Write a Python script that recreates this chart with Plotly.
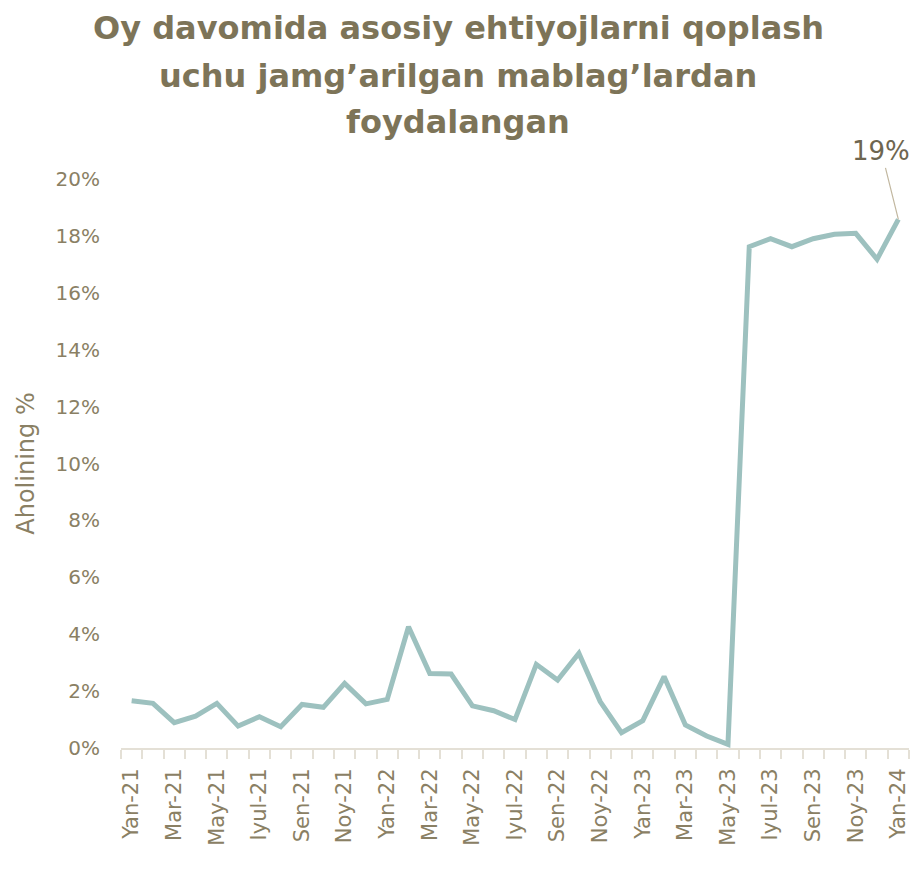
import plotly.graph_objects as go

months = ["Yan", "Fev", "Mar", "Apr", "May", "Iyun", "Iyul", "Avg", "Sen", "Okt", "Noy", "Dek"]
years = ["21", "22", "23", "24"]
categories = [f"{m}-{y}" for y in years for m in months][:37]

values = [1.66, 1.57, 0.89, 1.12, 1.57, 0.77, 1.10, 0.75, 1.53, 1.43, 2.27, 1.55,
          1.71, 4.26, 2.62, 2.60, 1.48, 1.31, 1.00, 2.94, 2.39, 3.33, 1.63, 0.54,
          0.96, 2.51, 0.81, 0.42, 0.13, 17.62, 17.90, 17.62, 17.90, 18.06, 18.09, 17.18, 18.58]

tick_labels = [c if i % 2 == 0 else "" for i, c in enumerate(categories)]
y_ticks = [0, 2, 4, 6, 8, 10, 12, 14, 16, 18, 20]
y_labels = [f"{v}%" for v in y_ticks]

title_lines = ["Oy davomida asosiy ehtiyojlarni qoplash",
               "uchu jamg’arilgan mablag’lardan",
               "foydalangan"]

title_color = "#7D7458"
label_color = "#8A8064"
font_family = "'DejaVu Sans', sans-serif"

W, H = 917, 869
ML, MR, MT, MB = 121, 8, 179, 121
plot_w = W - ML - MR
plot_h = H - MT - MB

fig = go.Figure()
fig.add_trace(go.Scatter(
    x=categories, y=values, mode="lines",
    line=dict(color="#9DC1BF", width=5),
    hoverinfo="x+y",
))

fig.add_annotation(
    x=categories[-1], y=values[-1],
    text="19%", showarrow=True, arrowhead=0, arrowwidth=1.2,
    arrowcolor="#C2B8A0", ax=-17, ay=-68,
    font=dict(size=26, color="#6E6650", family=font_family),
)

# title lines (centered on the page)
title_centers = [28, 76, 122]
for line, yc in zip(title_lines, title_centers):
    fig.add_annotation(
        text=f"<b>{line}</b>", showarrow=False,
        xref="paper", yref="paper",
        x=(458 - ML) / plot_w, y=(H - MB - yc) / plot_h,
        xanchor="center", yanchor="middle",
        font=dict(size=32, color=title_color, family=font_family),
    )

fig.update_layout(
    width=W, height=H,
    paper_bgcolor="white", plot_bgcolor="white",
    margin=dict(l=ML, r=MR, t=MT, b=MB),
    showlegend=False,
    font=dict(family=font_family, color=label_color),
)

fig.update_xaxes(
    type="category", tickmode="array", tickvals=categories, ticktext=tick_labels,
    tickson="boundaries", ticks="outside", ticklen=9, tickcolor="#E4E0D6", tickwidth=1.5,
    showline=True, linecolor="#E4E0D6", linewidth=2,
    showgrid=False, tickangle=-90, ticklabelstandoff=10,
    tickfont=dict(size=21, color=label_color, family=font_family),
    range=[-0.5, 36.5],
)

fig.update_yaxes(
    range=[0, 20], tickmode="array", tickvals=y_ticks, ticktext=y_labels,
    showgrid=False, zeroline=False, showline=False, ticks="",
    ticklabelstandoff=20,
    tickfont=dict(size=20, color=label_color, family=font_family),
    title=dict(text="Aholining %", font=dict(size=24, color=label_color, family=font_family), standoff=14),
)

fig.write_html("out.html", config={"displayModeBar": False},
               post_script="document.body.style.margin='0';")
